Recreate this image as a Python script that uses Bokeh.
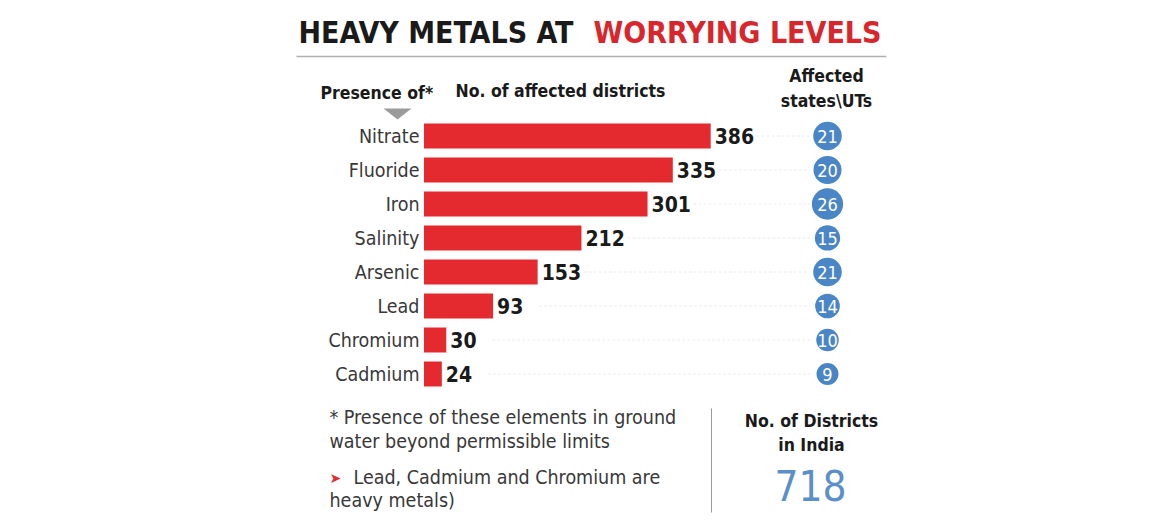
from bokeh.plotting import figure
from bokeh.models import Range1d, ColumnDataSource
from bokeh.embed import file_html
from bokeh.resources import INLINE
from bokeh.core.properties import value

# ---- data ----
categories = ["Nitrate", "Fluoride", "Iron", "Salinity", "Arsenic", "Lead", "Chromium", "Cadmium"]
districts = [386, 335, 301, 212, 153, 93, 30, 24]
states_uts = [21, 20, 26, 15, 21, 14, 10, 9]
total_districts = 718

# ---- layout helpers (page pixel -> data coords) ----
W, H = 1149, 516
X0, XS = 423.5, 0.7427   # page x of zero, px per district
Y0, YS = 135.5, 34.0     # page y of first row, px per row


def X(px):
    return (px - X0) / XS


def Y(py):
    return (py - Y0) / YS


FONT = "DejaVu Sans Condensed"
RED = "#e52a2f"
BLUE = "#4a86c6"
DARK = "#1a1a1a"
GREY = "#383838"

p = figure(width=W, height=H, output_backend="svg", toolbar_location=None,
           x_range=Range1d(X(0), X(W)), y_range=Range1d(Y(H), Y(0)),
           min_border=0, x_axis_location=None, y_axis_location=None,
           outline_line_color=None, background_fill_color="white")
for g in p.grid:
    g.visible = False

rows = list(range(len(categories)))
src = ColumnDataSource(dict(
    row=rows, cat=categories, val=districts,
    val_txt=[str(v) for v in districts],
    val_x=[v + 4 / XS for v in districts],
    guide_x0=[v + 46 / XS for v in districts],
    st=states_uts, st_txt=[str(s) for s in states_uts],
    st_size=[17 + 0.55 * s for s in states_uts],
))


def label(px, py, txt, size, color=DARK, bold=False, align="left", font=FONT):
    p.text(x=X(px), y=Y(py), text=[txt], text_align=align, text_baseline="middle",
           text_font=value(font), text_font_style="bold" if bold else "normal",
           text_font_size=size, text_color=color)


# title
label(298, 32, "HEAVY METALS AT", "30px", DARK, True, "left")
label(881, 32, "WORRYING LEVELS", "30px", "#d8262c", True, "right")
p.segment(x0=X(296), y0=Y(56), x1=X(886), y1=Y(56), line_color="#b0b0b0", line_width=1.5)

# headers
label(320, 92, "Presence of*", "17.5px", DARK, True)
p.patch(x=[X(383), X(411), X(397)], y=[Y(108), Y(108), Y(119)], color="#9b9b9b", line_color=None)
label(455, 90, "No. of affected districts", "17.5px", DARK, True)
label(826, 75, "Affected", "17.5px", DARK, True, "center")
label(826, 100, "states\\UTs", "17.5px", DARK, True, "center")

# faint guides
p.segment(x0="guide_x0", y0="row", x1=X(810), y1="row", source=src,
          line_color="#ececec", line_width=1, line_dash="3 2")

# bars
p.hbar(y="row", left=0, right="val", height=0.735, source=src, fill_color=RED, line_color=None)

# category labels
p.text(x=X(419), y="row", text="cat", source=src, text_align="right", text_baseline="middle",
       text_font=value(FONT), text_font_size="19.5px", text_color=GREY)
# value labels
p.text(x="val_x", y="row", text="val_txt", source=src, text_align="left", text_baseline="middle",
       text_font=value(FONT), text_font_style="bold", text_font_size="21px", text_color=DARK)

# states/UTs bubbles
p.scatter(x=X(827), y="row", size="st_size", source=src, fill_color=BLUE, line_color=None)
p.text(x=X(827), y="row", text="st_txt", source=src, text_align="center", text_baseline="middle",
       text_font=value(FONT), text_font_size="18px", text_color="white")

# footnotes
label(329, 417, "* Presence of these elements in ground", "19.5px", GREY)
label(329, 441, "water beyond permissible limits", "19.5px", GREY)
label(329, 477, "\u27a4", "14px", RED, font="DejaVu Sans")
label(353, 477, "Lead, Cadmium and Chromium are", "19.5px", GREY)
label(329, 500, "heavy metals)", "19.5px", GREY)

# divider and total
p.segment(x0=X(711), y0=Y(408), x1=X(711), y1=Y(512), line_color="#9a9a9a", line_width=1)
label(811, 420, "No. of Districts", "17.5px", DARK, True, "center")
label(811, 444, "in India", "17.5px", DARK, True, "center")
label(810, 485, str(total_districts), "42px", "#5a8fc9", False, "center")

open("out.html", "w").write(file_html(p, INLINE))
